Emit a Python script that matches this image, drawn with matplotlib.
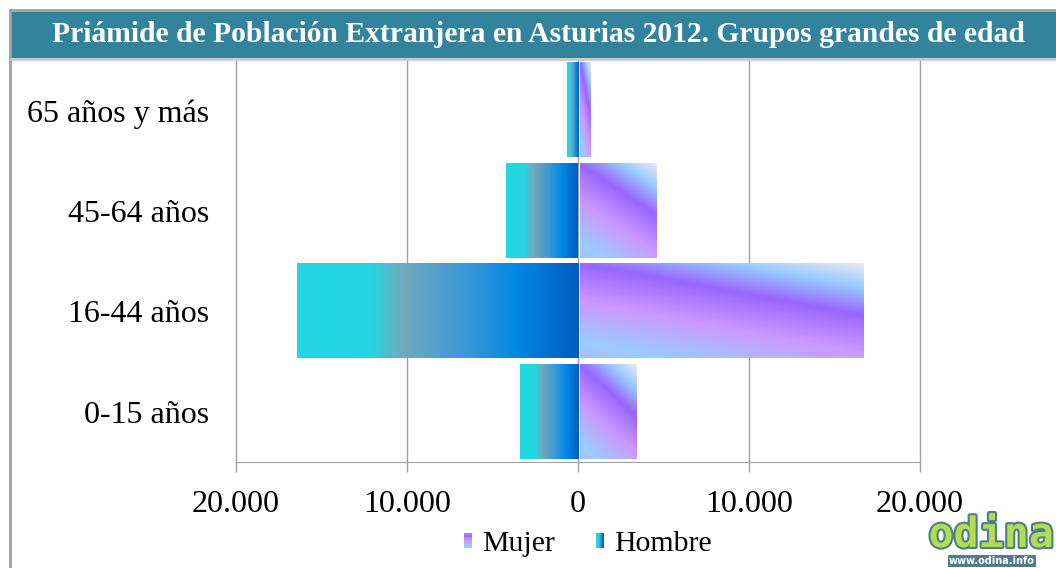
import numpy as np
import matplotlib.pyplot as plt
from matplotlib.colors import LinearSegmentedColormap
from matplotlib.patches import Rectangle
from matplotlib.lines import Line2D
from matplotlib.legend_handler import HandlerBase
import matplotlib.patheffects as pe

# Data
grupos = ['0-15 años', '16-44 años', '45-64 años', '65 años y más']
hombres = [3400, 16450, 4200, 650]
mujeres = [3400, 16700, 4600, 750]
ticks = [-20000, -10000, 0, 10000, 20000]
tick_labels = ['20.000', '10.000', '0', '10.000', '20.000']
titulo = 'Priámide de Población Extranjera en Asturias 2012. Grupos grandes de edad'

plt.rcParams['font.family'] = ['Liberation Serif', 'DejaVu Serif']

# gradient colour maps
cmap_h = LinearSegmentedColormap.from_list('h', [(0, '#22d8e2'), (0.26, '#26d6e0'), (0.38, '#72a8bc'),
                                                  (0.6, '#3a98d8'), (0.78, '#0088e4'), (1, '#005cc0')])
cmap_m = LinearSegmentedColormap.from_list('m', [(0, '#ece8f0'), (0.16, '#99ccff'), (0.355, '#9966ff'),
                                                  (0.613, '#cc99ff'), (0.9, '#99ccff'), (1, '#a8c0ff')])


def grad_h(n=200):
    return np.linspace(0, 1, n)[None, :]


def grad_m(n=120):
    u = np.linspace(0, 1, n)[None, :]
    v = np.linspace(0, 1, n)[:, None]
    t = v - 0.55 * u
    return (t + 0.55) / 1.55


fig = plt.figure(figsize=(10.56, 5.68), dpi=100)

# frame and title band
fig.add_artist(Line2D([10/1056, 10/1056], [0, 1 - 10/568], color='#a0a0a0', lw=2))
fig.add_artist(Line2D([10/1056, 1], [1 - 10/568, 1 - 10/568], color='#a0a0a0', lw=2))
fig.add_artist(Rectangle((11/1056, 1 - 58/568), 1, 46/568, color='#31849b', lw=0))
fig.add_artist(Line2D([11/1056, 1], [1 - 59.5/568, 1 - 59.5/568], color='#c8c8c8', lw=2))
fig.text(538/1056, 1 - 35/568, titulo, color='white', fontsize=21.3, fontweight='bold',
         ha='center', va='center')

ax = fig.add_axes([236/1056, 1 - 462/568, 684/1056, 402/568])
y = np.arange(len(grupos))
bh = ax.barh(y, [-v for v in hombres], height=0.94, color='none', lw=0)
bm = ax.barh(y, mujeres, height=0.94, color='none', lw=0)

for p in bh.patches:
    b = p.get_bbox()
    ax.imshow(grad_h(), cmap=cmap_h, vmin=0, vmax=1, aspect='auto', interpolation='bilinear',
              extent=[min(b.x0, b.x1), max(b.x0, b.x1), b.y0, b.y1], zorder=2)
for p in bm.patches:
    b = p.get_bbox()
    # small gap next to the zero line
    ax.imshow(grad_m(), cmap=cmap_m, vmin=0, vmax=1, aspect='auto', interpolation='bilinear',
              extent=[min(b.x0, b.x1) + 120, max(b.x0, b.x1), b.y0, b.y1], zorder=2)

ax.set_xlim(-20000, 20000)
ax.set_ylim(-0.5, 3.5)
ax.set_xticks(ticks)
ax.set_xticklabels(tick_labels, fontsize=23)
ax.set_yticks(y)
ax.set_yticklabels(grupos, fontsize=23)
ax.tick_params(axis='y', length=0, pad=19)
ax.tick_params(axis='x', length=7.5, width=1, color='#a0a0a0', pad=13)
for s in ['top', 'right', 'left']:
    ax.spines[s].set_visible(False)
ax.spines['bottom'].set_color('#a0a0a0')
ax.grid(axis='x', color='#a0a0a0', lw=1)
for gl in ax.get_xgridlines():
    gl.set_clip_on(False)
ax.set_axisbelow(True)


class HandlerGrad(HandlerBase):
    def __init__(self, cmap, vertical):
        super().__init__()
        self.cmap = cmap
        self.vertical = vertical

    def create_artists(self, legend, orig_handle, xdescent, ydescent, width, height, fontsize, trans):
        arts = []
        n = 8
        for i in range(n):
            c = self.cmap(0.3 + 0.6 * i / (n - 1)) if self.vertical else self.cmap(i / (n - 1))
            if self.vertical:
                r = Rectangle((-xdescent, -ydescent + height * (n - 1 - i) / n), width, height / n,
                              color=c, lw=0, transform=trans)
            else:
                r = Rectangle((-xdescent + width * i / n, -ydescent), width / n, height,
                              color=c, lw=0, transform=trans)
            arts.append(r)
        return arts


hm = Rectangle((0, 0), 1, 1)
hh = Rectangle((0, 0), 1, 1)
fig.legend([hm, hh], ['Mujer', 'Hombre'], loc='center', bbox_to_anchor=(588/1056, 1 - 544/568),
           ncol=2, frameon=False, fontsize=21.5, handlelength=0.28, handleheight=0.38,
           handletextpad=0.33, columnspacing=1.37,
           handler_map={hm: HandlerGrad(cmap_m, True), hh: HandlerGrad(cmap_h, False)})

# logo
fig.text(991/1056, 1 - 535/568, 'odina', fontsize=30, fontfamily='DejaVu Sans Mono', fontweight='bold',
         color='#b4dc50', ha='center', va='center',
         path_effects=[pe.withStroke(linewidth=3, foreground='#4a7f8c')])
fig.text(992/1056, 1 - 561/568, 'www.odina.info', fontsize=7, fontfamily='DejaVu Sans', fontweight='bold',
         color='white', ha='center', va='center',
         bbox=dict(boxstyle='square,pad=0.15', fc='#4a7f8c', ec='none'))

fig.savefig('out.png', dpi=100)
